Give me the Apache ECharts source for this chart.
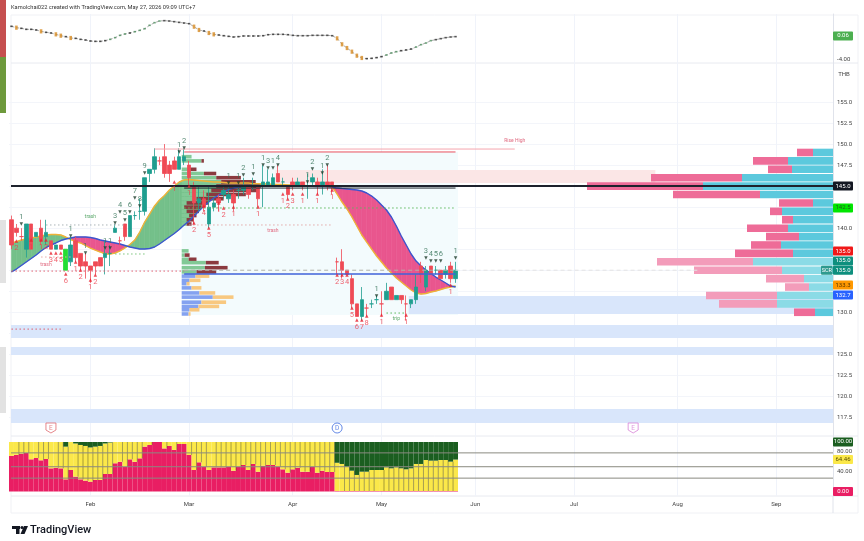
<!DOCTYPE html>
<html><head><meta charset="utf-8"><style>html,body{margin:0;padding:0;background:#fff}#c{width:864px;height:541px;filter:blur(0.55px)}</style>
<script src="https://cdn.jsdelivr.net/npm/echarts@6/dist/echarts.min.js"></script></head><body><div id="c"></div><script>
const monthLabels=['Feb','Mar','Apr','May','Jun','Jul','Aug','Sep'];
const monthBars=[16,36,57,75,94,114,135,155];
const barCount=167;
const candles=[[141,138,137.5,141.5],[140,139.5,139,140.5],[139,139,138.5,140],[137.5,140.5,136.5,140.5],[140.5,137.5,137.5,140.5],[139,139.5,139,139.5],[140,138.5,138,141],[139,139.5,138,141],[138.5,137.5,137.5,138.5],[137.5,138,137.5,138],[138,137.5,137.5,138],[135,137.5,135,137.5],[136,138,135.5,139],[138.5,136.5,136,139],[137,135.5,135,137],[136,135.5,134,137],[135.5,135,133.5,135.5],[136,135.5,134.5,136],[136.5,135.5,135.5,136.5],[136.5,137,134.5,138.5],[137,137,135.5,138],[139.5,140,139.5,140.5],[138.5,138.5,138,139],[140.5,139,138.5,140.5],[139,141.5,139,141.5],[141.5,141.5,141,142],[142,142,141,143.5],[142,146,141.5,146],[146.5,147,145.5,147],[147,148.5,146.5,149.5],[148,148,147.5,148.5],[148.5,146.5,146,150],[147.5,146.5,145.5,148],[148,147,147,148.5],[147,148.5,147,149.5],[148,148.5,147.5,149.5],[147.5,146,145,148],[145,143,140.5,145.5],[143,143.5,142,145],[143.5,142.5,142,144.5],[140.5,142.5,140,145],[142.5,143,142,143.5],[143.5,143,142,144],[144,144.5,143.5,145],[143.5,144,143,145],[144,143,142,144.5],[144.5,144.5,143.5,145],[144.5,145,144,146],[145,144,143.5,145],[145,145,144.5,146],[145,143.5,142.5,145],[145,145.5,142.5,147.5],[145,145.5,145,147],[145,146,145,146.5],[146.5,145.5,145.5,147.5],[145.5,145.5,145,146],[145,144,143.5,145],[145.5,145,144.5,146],[145,145.5,145,146],[145.5,145,144.5,145.5],[145,145,143.5,146.5],[145.5,146,145,146.5],[145.5,145,144,146],[145,145.5,144,147],[145.5,145,144.5,147.5],[145.5,145,144,145.5],[136,136,134.5,136.5],[136,135,134,137.5],[135,134.5,134.5,135],[134,131,130.5,134.5],[131,129.5,129.5,131],[129.5,131.5,129,133],[130.5,130.5,129.5,131],[131,131,130.5,131.5],[131.5,131.5,131,132],[131,131,129.5,132.5],[131.5,132.5,131.5,133.5],[133,131.5,131.5,133],[131.5,132,131.5,132],[132,131.5,131,132],[131,131,129,132],[131,131.5,130.5,131.5],[131.5,133,131,134.5],[135.5,134.5,133.5,136],[133,135,132.5,135.5],[135.5,134.5,134.5,135.5],[135,135,134.5,135.5],[135,134,134,135],[134.5,135,134,135.5],[135.5,134,133.5,136],[134,135,133.5,136]];
const fastLine=[138.24,138.41,138.59,138.71,138.83,138.95,139.07,139.19,139.25,139.25,139.19,138.95,138.65,138.41,138.24,137.94,137.64,137.40,137.17,136.93,136.93,137.05,137.29,137.64,138.06,138.59,139.54,140.73,141.68,142.64,143.35,143.88,144.54,145.01,145.49,145.73,145.79,145.73,145.67,145.61,145.55,145.49,145.49,145.43,145.37,145.37,145.37,145.37,145.37,145.3,145.3,145.25,145.25,145.2,145.2,145.2,145.15,145.15,145.1,145.1,145.05,145.05,145.0,145.0,144.95,144.9,144.06,143.11,142.28,141.33,140.26,139.19,138.35,137.52,136.69,135.98,135.26,134.67,134.07,133.60,133.12,132.65,132.29,132.17,132.23,132.41,132.53,132.71,132.89,133.0,133.12];
const slowLine=[134.79,135.14,135.56,135.98,136.39,136.81,137.29,137.70,138.0,138.24,138.53,138.71,138.83,138.95,138.95,138.95,138.89,138.77,138.59,138.47,138.35,138.24,138.12,137.94,137.76,137.64,137.52,137.52,137.58,137.76,138.12,138.53,138.95,139.37,139.84,140.38,140.85,141.45,142.04,142.64,143.11,143.59,143.94,144.30,144.60,144.77,144.89,144.95,145.01,145.02,145.02,145.02,145.02,145.02,145.02,145.0,145.0,145.0,145.0,145.0,144.98,144.98,144.96,144.96,144.94,144.9,144.77,144.71,144.66,144.60,144.54,144.42,144.18,143.82,143.35,142.75,142.16,141.33,140.26,139.07,138.0,136.93,136.09,135.50,135.03,134.61,134.19,133.84,133.48,133.12,133.0];
const oscillator=[1.70,1.47,1.36,1.19,1.19,1.08,.85,.68,.57,.34,.11,-.05,-.28,-.34,-.51,-.62,-.79,-.85,-.85,-.73,-.51,-.22,.17,.40,.57,.79,1.02,1.30,1.87,2.32,2.60,2.66,2.60,2.49,2.37,2.26,2.15,1.64,1.08,.91,.57,.34,.23,.11,0,-.11,-.05,.06,.06,.06,.06,.11,.28,.34,.34,.34,.28,.17,.11,.11,.11,.17,.17,.17,.17,.11,-.34,-1.35,-1.98,-2.60,-3.28,-3.67,-3.78,-3.73,-3.61,-3.44,-3.16,-2.82,-2.60,-2.43,-2.31,-2.15,-1.81,-1.41,-1.13,-.73,-.56,-.39,-.22,-.11,-.05];
const redShare=[72,74,76.4,78,65,67.7,63,65.7,46.8,48,46.8,24.6,43.4,30,24.6,22,20,23.3,23.3,35.4,35.4,57,60,50,65,60,67,90.6,94,100,100,87,92,84,96,96,73.7,43.4,59,50,43.4,48.8,48.8,48.8,50,42,50,53.5,43.4,55.6,40,52,53.5,53.5,50,44.8,38,44.8,48,40,40,50,38,42,39.4,39.4,1,1,1,1,1,1,1,1,1,1,1,1,1,1,1,1,1,1,1,1,1,1,1,1,1];
const yellowTop=[100,100,100,100,100,100,100,100,100,100,100,90.6,100,97,94,92,89,90.6,92,97,99,100,100,100,100,100,100,100,100,100,100,100,100,100,100,100,100,100,100,100,100,100,100,100,100,100,100,100,100,100,100,100,100,100,100,100,100,100,100,100,100,100,100,100,100,100,58,55.6,50,42,33.4,40,40,43.4,43.4,43.4,48.8,46.8,48.8,46.8,44.8,46.8,55.6,55.6,63.6,62.3,62.3,63.6,63.6,60.3,64.46];
const tickBars=[1,2,3,5,6,7,9,10,11,13,14,15,16,17,18,19,20,22,23,24,25,26,28,31,33,36,37,38,39,41,42,43,44,45,46,47,48,49,50,51,52,53,54,55,56,57,58,59,60,61,62,63,64,65,67,68,69,70,71,72,73,75,76,77,78,79,80,81,82,83,84,85,86,87,88,89];
const vpPrices=[149,148,147,146,145,144,143,142,141,140,139,138,137,136,135,134,133,132,131,130];
const vpBuy=[20,45,41,91,130,73,20,51,40,45,34,52,40,80,51,29,24,56,56,18];
const vpSell=[16,35,24,91,116,87,34,12,11,41,33,30,58,96,88,38,24,71,58,21];
const vpPale=[0,0,0,0,0,0,0,0,0,0,0,0,0,1,1,1,1,1,1,0];
const upperRows=[[148.5,2,0],[148,4,.5],[147,1.5,1.5],[146.5,4.5,2.5],[146,7,5],[145.5,8,7],[145,7,9],[144.5,6,9.5],[144,5,8],[143.5,3,5.5],[143,1,4.5],[142.5,.5,3.5],[142,1,2.5],[141.5,1.5,1.5],[141,1,1.5],[140.5,1,1]];
const lowerRows=[[137.3,1.4,0,0],[136.8,.6,1,0],[136.3,1.4,1.6,0],[135.9,4.9,2.6,0],[135.3,4.7,4.6,0],[134.8,3,4,0],[134.3,2.8,2.8,1],[133.8,1.6,2.2,1],[133.4,1,.6,1],[132.9,2,2,1],[132.3,3.6,3.2,1],[131.8,6.3,4.2,1],[131.2,4,5,1],[130.7,3.4,4.2,1],[130.3,1.6,2,1],[129.8,1.4,.4,1]];
const zones=[[35,90,129.67,149.06,'#f3fbfd'],[-1,999,126.94,128.49,'#d9e6fb'],[-1,999,124.92,125.87,'#d9e6fb'],[-1,999,116.83,118.5,'#d9e6fb'],[81,999,129.79,131.93,'#d9e6fb'],[54,130,145.37,146.91,'#fbe6e6']];
const levels=[[29,102,149.41,'#f5a6ae',1,'solid'],[35,90,149.06,'#e8505e',1,'solid'],[35,90,144.77,'#222831',1,'solid'],[35,90,142.4,'#5cb85c',1,'dotted'],[7,23,140.38,'#aab4b8',1,'dotted'],[36,65,140.38,'#e3a9a9',1,'dotted'],[0,35,134.9,'#e06070',1,'dotted'],[35,90,135,'#b0b0a8',1,'dashed'],[35,90,134.55,'#3f62d8',1.6,'solid'],[90,139,135,'#e3e3e3',1,'dashed'],[21,27,136.93,'#7cc47c',1,'dotted'],[6,12,136.57,'#e8a8a8',1,'dotted'],[0,10,128,'#e06070',1,'dotted'],[76,80,129.91,'#5cb85c',1,'dotted'],[-1,999,145.01,'#1e222d',2,'solid']];
const noteBars=[16,53,7,78,102];
const notePrices=[141.33,139.66,135.62,129.2,150.36];
const noteTexts=['trash','trash','trash','trip','Rise High'];
const noteColors=['#5aa86a','#e06a80','#e06a80','#5aa86a','#e06a80'];
const aboveMarks=[[2,140.5,'1'],[12,139.07,'1'],[15,137.05,'1'],[19,137.64,'1'],[20,137.64,'1'],[21,140.61,'3'],[22,141.92,'4'],[23,140.97,'5'],[24,141.92,'6'],[25,143.59,'7'],[26,142.64,'8'],[27,146.56,'9'],[34,149.06,'1'],[35,149.53,'2'],[44,145.37,'1'],[46,145.37,'1'],[47,146.32,'2'],[49,146.44,'1'],[51,147.51,'1'],[52,147.15,'3'],[53,147.15,'1'],[54,147.51,'4'],[60,145.49,'1'],[61,147.04,'2'],[63,146.56,'1'],[64,147.51,'2'],[74,131.93,'1'],[84,136.45,'3'],[85,136.09,'4'],[86,136.09,'5'],[87,136.09,'6'],[90,136.45,'1']];
const belowMarks=[[1,138.47,'2'],[4,138.59,'1'],[6,138.59,'1'],[7,138.59,'2'],[8,137.05,'3'],[9,137.05,'4'],[10,137.05,'5'],[11,134.55,'6'],[13,135.98,'1'],[14,135.03,'2'],[16,133.84,'1'],[17,134.43,'2'],[33,145.49,'1'],[36,145.01,'1'],[37,140.61,'2'],[39,142.64,'4'],[40,140.02,'5'],[42,142.99,'1'],[43,142.4,'2'],[45,142.52,'1'],[50,142.52,'1'],[55,144.06,'1'],[56,143.47,'2'],[57,144.06,'3'],[59,144.06,'1'],[62,144.06,'1'],[65,144.54,'1'],[66,134.43,'2'],[67,134.43,'3'],[68,134.43,'4'],[69,130.51,'5'],[70,129.08,'6'],[71,129.08,'7'],[72,129.56,'8'],[75,129.67,'1'],[80,129.67,'1'],[89,133.24,'1']];
const eventBars=[8,66,126];
const eventPrice=116.24;
const eventTexts=['E','D','E'];
const eventColors=['#e06a70','#3d6be0','#d884d8'];
const priceTicks=[155,152.5,150,147.5,140,130,125,122.5,120,117.5];
const gridPrices=[155,152.5,150,147.5,145,142.5,140,137.5,135,132.5,130,127.5,125,122.5,120,117.5];
const mainTags=[[145.01,'145.0','#131722','#fff'],[142.4,'142.5','#00e600','#1d5e1d'],[137.28,'135.0','#f01818','#fff'],[136.1,'135.0','#0e8f7e','#fff'],[135,'135.0','#0e8f7e','#fff'],[133.24,'133.3','#ff9800','#5a3800'],[132.05,'132.7','#2962ff','#fff']];
const topTags=[[0.06,'0.06','#4caf50','#fff']];
const lowTags=[[100,'100.00','#1b5e20','#fff'],[64.46,'64.46','#fbe84a','#5a5000'],[0,'0.00','#e91e63','#fff']];
const lowTicks=[80,40];
const lowLevels=[78,50,27];

const font='Roboto, sans-serif';
const categories=Array.from({length:barCount},(_,i)=>String(i));
const L=9,W=824,R=L+W;
const grids=[{left:L,width:W,top:14,height:49},{left:L,width:W,top:63,height:374},{left:L,width:W,top:436,height:60}];
const xAxes=grids.map((g,i)=>({type:'category',gridIndex:i,data:categories,boundaryGap:true,
  axisLine:{show:false},axisTick:{show:false},
  axisLabel:{show:i===2,interval:(k)=>monthBars.includes(k),formatter:(v,k)=>monthLabels[monthBars.indexOf(+v)]||'',fontSize:6,color:'#444',fontFamily:font,margin:5},
  splitLine:{show:true,alignWithLabel:true,interval:(k)=>monthBars.includes(k),lineStyle:{color:'#f0f3fa',width:1}}}));
const yCommon={position:'right',scale:false,axisTick:{show:false},axisLine:{show:true,onZero:false,lineStyle:{color:'#e0e3eb'}}};
const fmt2=v=>v.toFixed(2),fmt1=v=>v.toFixed(1);
const yAxes=[
 {...yCommon,type:'value',gridIndex:0,min:-4.52,max:3.79,axisLabel:{customValues:[-4],formatter:fmt2,fontSize:6,color:'#444',fontFamily:font,margin:4},splitLine:{show:false}},
 {...yCommon,type:'value',gridIndex:1,min:115.17,max:159.64,axisTick:{show:false,customValues:gridPrices},axisLabel:{customValues:priceTicks,formatter:fmt1,fontSize:6,color:'#444',fontFamily:font,margin:4},splitLine:{show:true,lineStyle:{color:'#f3f5fa'}}},
 {...yCommon,type:'value',gridIndex:2,min:-9.1,max:112.1,axisLabel:{customValues:lowTicks,formatter:fmt2,fontSize:6,color:'#444',fontFamily:font,margin:4},splitLine:{show:false}}];

const band=api=>api.size([1,0])[0];
const edgeX=(v,api,params,side)=>{const c=params.coordSys;if(v===-1)return c.x+2;if(v===999)return c.x+c.width;return api.coord([v,0])[0]+(side||0)*band(api)/2;};
function custom(xi,items,render,z){return {type:'custom',xAxisIndex:xi,yAxisIndex:xi,z,silent:true,animation:false,data:items.map((_,i)=>[i,0]),encode:{x:0,y:1},renderItem:render,clip:false};}
const zoneS=custom(1,zones,(p,api)=>{const z=zones[p.dataIndex];const a=edgeX(z[0],api,p,-1),b=edgeX(z[1],api,p,1);const t=api.coord([0,z[3]])[1],u=api.coord([0,z[2]])[1];return {type:'rect',shape:{x:a,y:t,width:b-a,height:u-t},style:{fill:z[4]}};},1);
const rightVp=custom(1,vpPrices,(p,api)=>{const i=p.dataIndex,y=api.coord([0,vpPrices[i]])[1],c=p.coordSys,r=c.x+c.width,h=7.6,pale=vpPale[i];
 return {type:'group',children:[{type:'rect',shape:{x:r-vpBuy[i],y:y-h/2,width:vpBuy[i],height:h},style:{fill:pale?'#8bdbe6':'#5cc9dd'}},{type:'rect',shape:{x:r-vpBuy[i]-vpSell[i],y:y-h/2,width:vpSell[i],height:h},style:{fill:pale?'#f39cba':'#ee6c98'}}]};},2);
const cloud=custom(1,fastLine.slice(0,-1),(p,api)=>{const i=p.dataIndex;const P=(k,v)=>api.coord([k,v]);const up=fastLine[i]+fastLine[i+1]>=slowLine[i]+slowLine[i+1];const col=up?'#74c08a':'#e9568e';
 return {type:'polygon',shape:{points:[P(i,fastLine[i]),P(i+1,fastLine[i+1]),P(i+1,slowLine[i+1]),P(i,slowLine[i])]},style:{fill:col,stroke:col,lineWidth:.6}};},3);
function rowsRender(rows,c1,c2,lowC1,lowC2){return (p,api)=>{const r=rows[p.dataIndex];const x0=api.coord([35,0])[0]-band(api)/2,u=band(api),y=api.coord([0,r[0]])[1],h=3.6;const low=r[3];
 return {type:'group',children:[{type:'rect',shape:{x:x0,y:y-h/2,width:r[1]*u,height:h},style:{fill:low?lowC1:c1}},{type:'rect',shape:{x:x0+r[1]*u,y:y-h/2,width:r[2]*u,height:h},style:{fill:low?lowC2:c2}}]};};}
const upVp=custom(1,upperRows,rowsRender(upperRows,'#82c996','#8b3a3f'),4);
const loVp=custom(1,lowerRows,rowsRender(lowerRows,'#82c996','#8b3a3f','#84a2f0','#f8c880'),4);
const lineS=custom(1,levels,(p,api)=>{const l=levels[p.dataIndex];const y=api.coord([0,l[2]])[1];const d=l[5]==='dotted'?[1.5,2.5]:l[5]==='dashed'?[4,3]:null;
 return {type:'line',shape:{x1:edgeX(l[0],api,p,0),y1:y,x2:edgeX(l[1],api,p,0),y2:y},style:{stroke:l[3],lineWidth:l[4],lineDash:d}};},7);
const noteS=custom(1,noteTexts,(p,api)=>{const i=p.dataIndex;const c=api.coord([noteBars[i],notePrices[i]]);return {type:'text',style:{text:noteTexts[i],x:c[0],y:c[1],fill:noteColors[i],fontSize:5,fontFamily:font,align:'center',verticalAlign:'middle'}};},8);
function tagS(xi,tags){return custom(xi,tags,(p,api)=>{const t=tags[p.dataIndex];const y=api.coord([0,t[0]])[1],c=p.coordSys,r=c.x+c.width;
 return {type:'group',children:[{type:'rect',shape:{x:r,y:y-4.5,width:20,height:9,r:1},style:{fill:t[2]}},{type:'text',style:{text:t[1],x:r+10,y:y,fill:t[3],fontSize:6,fontFamily:font,align:'center',verticalAlign:'middle'}}]};},9);}
const scrS=custom(1,[135],(p,api)=>{const y=api.coord([0,135])[1],r=p.coordSys.x+p.coordSys.width;return {type:'group',children:[{type:'rect',shape:{x:r-12,y:y-4.5,width:11.5,height:9,r:1},style:{fill:'#2e9a8e'}},{type:'text',style:{text:'SCR',x:r-6.2,y:y,fill:'#fff',fontSize:5.5,fontFamily:font,align:'center',verticalAlign:'middle'}}]};},9);
const marks=(data,color,above)=>({type:'scatter',xAxisIndex:1,yAxisIndex:1,z:8,silent:true,animation:false,symbol:'triangle',symbolSize:[3.5,3.5],symbolRotate:above?180:0,
 itemStyle:{color:above?'#1f3d2c':'#e8202e'},data:data.map(d=>({value:[d[0],d[1]],label:{formatter:d[2]}})),
 label:{show:true,position:above?'top':'bottom',distance:1.5,fontSize:7.5,color,fontFamily:font}});
const ticksS=custom(2,tickBars,(p,api)=>{const k=tickBars[p.dataIndex];const x=api.coord([k,0])[0]+band(api)/2;return {type:'line',shape:{x1:x,y1:api.coord([0,redShare[k]])[1],x2:x,y2:api.coord([0,yellowTop[k]])[1]},style:{stroke:'rgba(40,40,20,.5)',lineWidth:.8}};},5);
const lowLineS=custom(2,lowLevels,(p,api)=>{const y=api.coord([0,lowLevels[p.dataIndex]])[1],c=p.coordSys;return {type:'line',shape:{x1:c.x+2,y1:y,x2:c.x+c.width,y2:y},style:{stroke:'#8a8a80',lineWidth:1}};},6);

const series=[zoneS,rightVp,cloud,upVp,loVp,
 {type:'line',xAxisIndex:1,yAxisIndex:1,z:4,data:fastLine,showSymbol:false,silent:true,animation:false,lineStyle:{color:'#eeb238',width:1.4}},
 {type:'line',xAxisIndex:1,yAxisIndex:1,z:4,data:slowLine,showSymbol:false,silent:true,animation:false,lineStyle:{color:'#3b55cf',width:1.4}},
 {type:'candlestick',xAxisIndex:1,yAxisIndex:1,z:5,silent:true,animation:false,barWidth:4,
  data:candles.map((c,i)=>i===11?{value:c,itemStyle:{color:'#22dd33',borderColor:'#22dd33'}}:c),
  itemStyle:{color:'#1f9e8f',color0:'#ef4a55',borderColor:'#1f9e8f',borderColor0:'#ef4a55',borderWidth:.8}},
 lineS,noteS,scrS,marks(aboveMarks,'#2e6e52',true),marks(belowMarks,'#ee3a48',false),
 tagS(1,mainTags),tagS(0,topTags),tagS(2,lowTags),
 {type:'line',xAxisIndex:0,yAxisIndex:0,z:3,data:oscillator,showSymbol:false,silent:true,animation:false,lineStyle:{color:'#888',width:.7,type:[3,2]}},
 {type:'scatter',xAxisIndex:0,yAxisIndex:0,z:4,silent:true,animation:false,symbol:'rect',
  data:oscillator.map((v,i)=>{const d=i?v-oscillator[i-1]:0;const o=d<-.2;const g=d>.2;return {value:[i,v],symbolSize:o?[2.6,4.2]:[2.4,1.6],itemStyle:{color:o?'#d68a20':g?'#4f8f5f':'#2a2a2a'}};})},
 {type:'scatter',xAxisIndex:1,yAxisIndex:1,z:8,silent:true,animation:false,symbol:'circle',symbolSize:10,
  data:eventBars.map((b,i)=>({value:[b,eventPrice],symbol:i===1?'circle':'path://M0 0H10V7L5 10L0 7Z',itemStyle:{color:'#fff',borderColor:eventColors[i],borderWidth:1},label:{show:true,formatter:eventTexts[i],position:'inside',fontSize:6.5,color:eventColors[i],fontFamily:font}}))},
 ...['red','yellow','green'].map((n,si)=>({type:'bar',xAxisIndex:2,yAxisIndex:2,stack:'share',barWidth:'100%',silent:true,animation:false,z:2,
   itemStyle:{color:['#e91e63','#fbe84a','#1b5e20'][si]},
   data:redShare.map((r,i)=>si===0?r:si===1?yellowTop[i]-r:100-yellowTop[i])})),
 ticksS,lowLineS];

const chart=echarts.init(document.getElementById('c'),null,{renderer:'canvas'});
chart.setOption({animation:false,backgroundColor:'#fff',
 title:{text:'Kamolchai022 created with TradingView.com, May 27, 2026 09:09 UTC+7',left:11,top:5,padding:0,textStyle:{fontSize:5.7,fontWeight:'normal',color:'#333',fontFamily:font}},
 grid:grids,xAxis:xAxes,yAxis:yAxes,series,
 graphic:[
  {type:'rect',shape:{x:0,y:0,width:6,height:57},style:{fill:'#c64f4f'}},
  {type:'rect',shape:{x:0,y:57,width:6,height:56},style:{fill:'#6e9a3c'}},
  {type:'rect',shape:{x:0,y:220,width:6,height:63},style:{fill:'#e2e2e2'}},
  {type:'rect',shape:{x:0,y:347,width:6,height:66},style:{fill:'#e2e2e2'}},
  {type:'polyline',shape:{points:[[11,513],[11,15],[858,15],[858,513],[11,513]]},style:{stroke:'#f0f1f5',fill:null,lineWidth:1}},
  {type:'line',shape:{x1:11,y1:63,x2:858,y2:63},style:{stroke:'#e8eaf0'}},
  {type:'line',shape:{x1:11,y1:436,x2:858,y2:436},style:{stroke:'#e8eaf0'}},
  {type:'line',shape:{x1:11,y1:496,x2:858,y2:496},style:{stroke:'#e8eaf0'}},
  {type:'line',shape:{x1:833,y1:496,x2:833,y2:513},style:{stroke:'#e0e3eb'}},
  {type:'text',style:{text:'THB',x:844,y:74,fill:'#444',fontSize:6,fontFamily:font,align:'center',verticalAlign:'middle'}},
  {type:'rect',shape:{x:12,y:526,width:8,height:3},style:{fill:'#131722'}},
  {type:'rect',shape:{x:16,y:526,width:3.5,height:8},style:{fill:'#131722'}},
  {type:'circle',shape:{cx:22,cy:527.5,r:1.6},style:{fill:'#131722'}},
  {type:'polygon',shape:{points:[[24,526],[28,526],[24.5,534],[20.5,534]]},style:{fill:'#131722'}},
  {type:'text',style:{text:'TradingView',x:30,y:530,fill:'#131722',fontSize:11,fontWeight:500,fontFamily:font,align:'left',verticalAlign:'middle'}}
 ]});
</script></body></html>
